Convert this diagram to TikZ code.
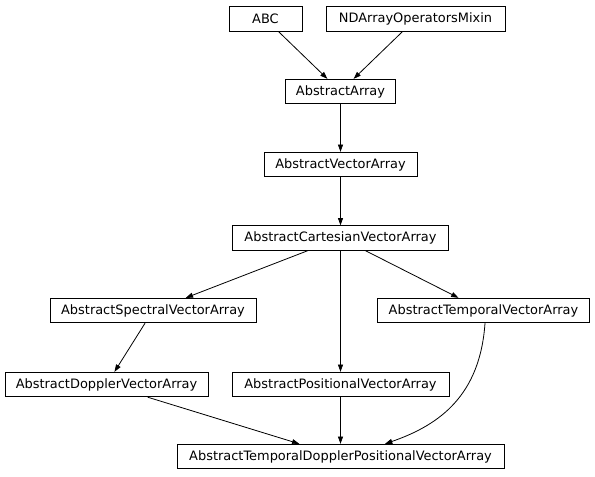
\documentclass[tikz,border=0pt]{standalone}
\usepackage{fontspec}
\setmainfont{DejaVu Sans}
\usetikzlibrary{arrows.meta,calc}
\begin{document}
\begin{tikzpicture}[x=0.75pt,y=-0.75pt,
  cls/.style={draw=black,line width=0.6pt,inner sep=0pt,minimum height=18.4pt,
    font=\fontsize{9.7}{11}\selectfont,anchor=center},
  inh/.style={line width=0.6pt,-{Triangle[length=5.5pt,width=3.8pt]}}]
\useasboundingbox (0,0) rectangle (595,476);
\node[cls,minimum width=54.8pt]  (abc)  at (265.5,19)  {ABC};
\node[cls,minimum width=134.2pt] (nd)   at (415.5,19)  {NDArrayOperatorsMixin};
\node[cls,minimum width=82.5pt]  (aa)   at (340.5,91.5) {AbstractArray};
\node[cls,minimum width=114.8pt] (ava)  at (340.5,164.5) {AbstractVectorArray};
\node[cls,minimum width=162pt]   (acva) at (340.5,238) {AbstractCartesianVectorArray};
\node[cls,minimum width=154.5pt] (asva) at (153,310.5) {AbstractSpectralVectorArray};
\node[cls,minimum width=159pt]   (atva) at (483.5,310.5) {AbstractTemporalVectorArray};
\node[cls,minimum width=152.2pt] (adva) at (106.5,384.5) {AbstractDopplerVectorArray};
\node[cls,minimum width=162.8pt] (apva) at (340.5,384.5) {AbstractPositionalVectorArray};
\node[cls,minimum width=245.2pt] (bot)  at (340.5,456.5) {AbstractTemporalDopplerPositionalVectorArray};
\draw[inh] (abc) -- (aa);
\draw[inh] (nd) -- (aa);
\draw[inh] (aa) -- (ava);
\draw[inh] (ava) -- (acva);
\draw[inh] (acva) -- (asva);
\draw[inh] (acva) -- (atva);
\draw[inh] (acva) -- (apva);
\draw[inh] (asva) -- (adva);
\draw[inh] (adva) -- (bot);
\draw[inh] (apva) -- (bot);
\draw[inh] ($(atva.south)+(1.5,0)$) .. controls +(-5,72) and +(55,-19) .. ($(bot.north)+(44.5,0)$);
\end{tikzpicture}
\end{document}
